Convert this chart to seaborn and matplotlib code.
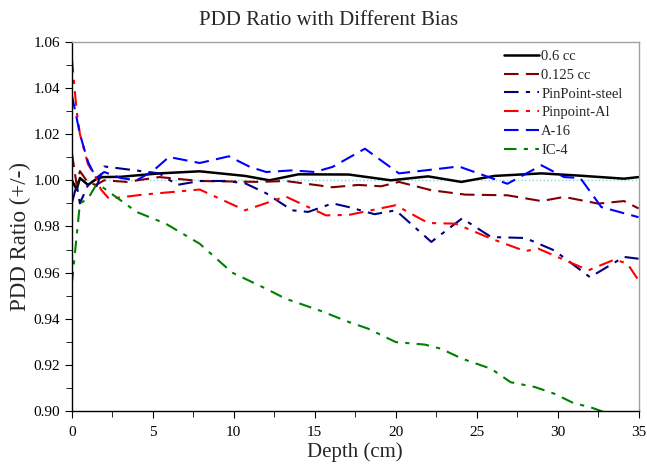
import numpy as np
import pandas as pd
import matplotlib
matplotlib.use("Agg")
import matplotlib.pyplot as plt
from matplotlib.ticker import MultipleLocator, FormatStrFormatter
import seaborn as sns

# Data
d_06 = [0, 0.3, 0.5, 1, 1.5, 1.9, 3, 5.4, 7.9, 10.7, 12.2, 14, 17.1, 19.7, 22, 24.05, 26.1, 29, 31.4, 34.1, 35]
v_06 = [1.000, 0.996, 1.001, 0.998, 1.0005, 1.0014, 1.0015, 1.003, 1.0039, 1.0019, 1.000, 1.0026, 1.0025, 1.000, 1.0017, 0.9993, 1.0019, 1.003, 1.002, 1.0007, 1.0014]

d_0125 = [0, 0.3, 0.5, 1, 1.5, 2, 3.4, 5.4, 7.9, 11.6, 13.2, 16.1, 17.7, 19.1, 20.2, 22.2, 24.3, 26.9, 29, 30.4, 32.5, 34.1, 35]
v_0125 = [1.012, 0.998, 1.004, 0.999, 0.998, 1.000, 0.9993, 1.0014, 0.9997, 0.9993, 0.9997, 0.997, 0.998, 0.9974, 0.9993, 0.9957, 0.9938, 0.9935, 0.991, 0.9928, 0.9899, 0.991, 0.9878]

d_steel = [0, 0.3, 0.5, 1, 1.5, 2, 5.4, 6.5, 7.9, 9.5, 10.7, 12, 13.6, 14.6, 16.1, 17.1, 18.7, 20, 22.2, 24.1, 25.9, 28, 29.8, 32, 34.1, 35]
v_steel = [0.990, 0.998, 0.990, 0.998, 0.997, 1.006, 1.003, 0.998, 0.9997, 0.9997, 0.9987, 0.9944, 0.987, 0.9863, 0.990, 0.9884, 0.9853, 0.987, 0.9733, 0.9835, 0.9754, 0.975, 0.9696, 0.958, 0.9668, 0.966]

d_al = [0, 0.3, 0.5, 1, 1.5, 1.8, 2.3, 4.4, 7.9, 10.7, 13.2, 15.7, 17.1, 20, 22, 23.7, 25.9, 28, 28.8, 31.9, 33.5, 34.3, 35]
v_al = [1.053, 1.030, 1.020, 1.007, 1.001, 0.996, 0.992, 0.9938, 0.996, 0.987, 0.993, 0.9848, 0.985, 0.9892, 0.9815, 0.9812, 0.9747, 0.9693, 0.9704, 0.961, 0.9656, 0.964, 0.9566]

d_a16 = [0, 0.3, 0.5, 1, 1.5, 2, 3, 4, 5, 6, 7.9, 9.7, 11, 12, 13.6, 15, 16.1, 18.1, 20.2, 22.2, 23.9, 26.9, 29, 30.4, 31.4, 32.7, 35]
v_a16 = [1.037, 1.027, 1.020, 1.008, 1.001, 1.0036, 1.001, 1.000, 1.004, 1.0101, 1.0075, 1.0104, 1.0058, 1.0036, 1.0043, 1.0036, 1.0058, 1.0137, 1.003, 1.0046, 1.006, 0.9985, 1.0065, 1.0014, 1.001, 0.9884, 0.984]

d_ic4 = [0, 0.5, 1, 1.5, 1.9, 4, 5.8, 7.9, 9.9, 12, 13.2, 15.3, 17.1, 18.3, 20, 21.8, 22.8, 24.1, 25.9, 27.1, 28.6, 29.8, 31, 32, 32.7, 33.5]
v_ic4 = [0.955, 0.990, 0.992, 0.998, 0.997, 0.9863, 0.9812, 0.9725, 0.960, 0.953, 0.9487, 0.9436, 0.9386, 0.9357, 0.9299, 0.9288, 0.927, 0.9227, 0.9183, 0.9125, 0.9104, 0.9075, 0.9034, 0.9017, 0.900, 0.897]

series = [
    ("0.6 cc", d_06, v_06, "black", "-", 1.8),
    ("0.125 cc", d_0125, v_0125, "#800000", (0, (7, 3.5)), 1.5),
    ("PinPoint-steel", d_steel, v_steel, "#000080", (0, (7, 3.5, 2, 3.5)), 1.5),
    ("Pinpoint-Al", d_al, v_al, "red", (0, (7, 3.5, 2, 3.5)), 1.5),
    ("A-16", d_a16, v_a16, "blue", (0, (7, 3.5)), 1.5),
    ("IC-4", d_ic4, v_ic4, "green", (0, (6, 3.5, 2, 3.5)), 1.5),
]

sns.set_style("ticks")
plt.rcParams['font.family'] = ['Liberation Serif', 'DejaVu Serif']

fig = plt.figure(figsize=(6.47, 4.65), dpi=100)
ax = fig.add_axes([0.111, 0.116, 0.876, 0.794])

# reference line at 1.00
ax.axhline(1.0, color="#8fd3d3", linestyle=":", linewidth=1.0, zorder=1)

for name, xs, ys, col, ls, lw in series:
    df = pd.DataFrame({"depth": xs, "ratio": ys})
    sns.lineplot(data=df, x="depth", y="ratio", color=col, linestyle=ls,
                 linewidth=lw, label=name, ax=ax, sort=False)

ax.set_xlim(0, 35)
ax.set_ylim(0.90, 1.06)
ax.xaxis.set_major_locator(MultipleLocator(5))
ax.xaxis.set_minor_locator(MultipleLocator(2.5))
ax.yaxis.set_major_locator(MultipleLocator(0.02))
ax.yaxis.set_minor_locator(MultipleLocator(0.01))
ax.yaxis.set_major_formatter(FormatStrFormatter("%.2f"))
ax.tick_params(axis="both", which="both", direction="out", labelsize=11, colors="black")
ax.tick_params(axis="both", which="major", length=5)
ax.tick_params(axis="both", which="minor", length=4)
ax.tick_params(axis="x", pad=6)

for s in ["top", "right"]:
    ax.spines[s].set_color("#a0a0a0")
    ax.spines[s].set_linewidth(1.0)
for s in ["left", "bottom"]:
    ax.spines[s].set_color("black")
    ax.spines[s].set_linewidth(1.0)

ax.set_title("PDD Ratio with Different Bias", fontsize=15, pad=12, x=0.453)
ax.set_xlabel("Depth (cm)", fontsize=15, labelpad=2)
ax.set_ylabel("PDD Ratio (+/-)", fontsize=16.5)
ax.yaxis.set_label_coords(-0.072, 0.474)

ax.legend(loc="upper right", frameon=False, fontsize=10.5, handlelength=2.4,
          handletextpad=0.15, labelspacing=0.38, borderaxespad=0.3,
          bbox_to_anchor=(0.99, 1.006))

plt.savefig("out.png", dpi=100)
